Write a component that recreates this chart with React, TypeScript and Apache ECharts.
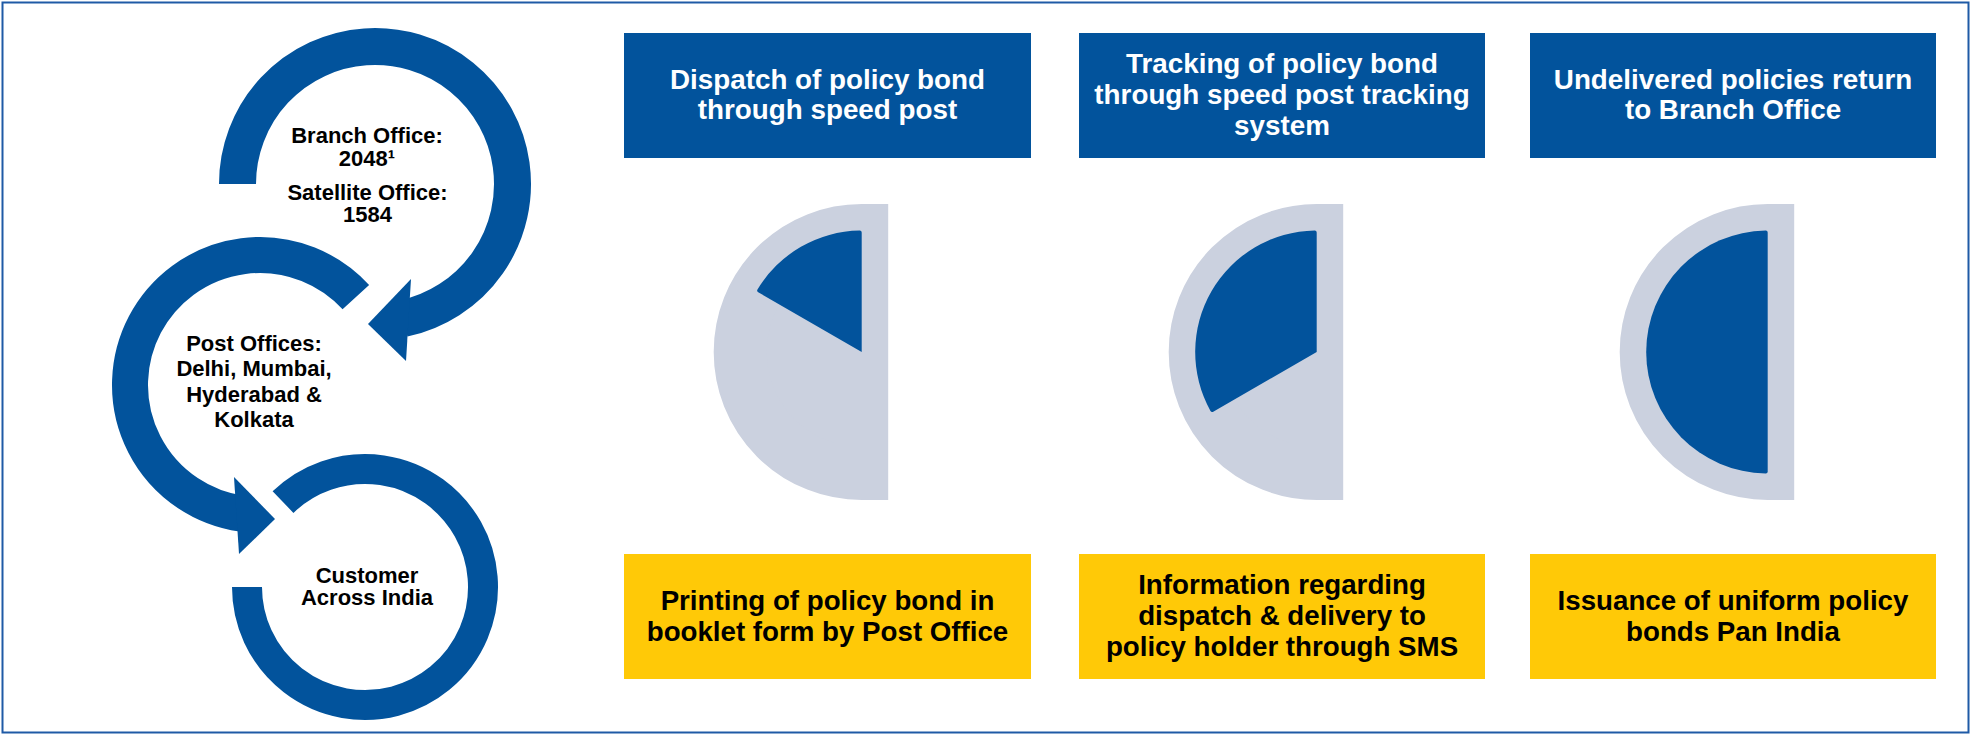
import React, { useEffect, useRef } from "react";
import * as echarts from "echarts";

// ---- content ----
const flowLabels = [
  "Branch Office:\n2048¹",
  "Satellite Office:\n1584",
  "Post Offices:\nDelhi, Mumbai,\nHyderabad &\nKolkata",
  "Customer\nAcross India",
];
const stepTitles = [
  "Dispatch of policy bond\nthrough speed post",
  "Tracking of policy bond\nthrough speed post tracking\nsystem",
  "Undelivered policies return\nto Branch Office",
];
const stepNotes = [
  "Printing of policy bond in\nbooklet form by Post Office",
  "Information regarding\ndispatch & delivery to\npolicy holder through SMS",
  "Issuance of uniform policy\nbonds Pan India",
];
const deliveredParts = [1, 2, 3];
const totalParts = 6;
const halfParts = [1, 1];

// ---- styling / layout ----
const BLUE = "#02539C";
const GRAY = "#CBD1DF";
const YELLOW = "#FFC907";
const FRAME = "#1F5AA6";
const FONT = '"Liberation Sans", Arial, Helvetica, sans-serif';

const W = 1971;
const H = 735;
const colX = [624, 1079, 1530];
const colW = [407, 406, 406];
const boxH = 125;
const titleTop = 33;
const noteTop = 554;
const pieOffset = 237.7;
const pieCy = 352;
const pieR = 121.5;
const halo = 26.5;

const deg = (d: number) => (d * Math.PI) / 180;

function txt(text: string, x: number, y: number, size: number, lh: number, color: string) {
  return {
    type: "text",
    x,
    y,
    z: 10,
    silent: true,
    style: {
      text,
      fill: color,
      fontSize: size,
      fontWeight: "bold",
      fontFamily: FONT,
      align: "center",
      verticalAlign: "middle",
      textAlign: "center",
      textVerticalAlign: "middle",
      lineHeight: lh,
    },
  };
}

export default function App() {
  const ref = useRef<HTMLDivElement>(null);
  useEffect(() => {
    document.body.style.margin = "0";
    const chart = echarts.init(ref.current!, null, { renderer: "svg" });

    const series: any[] = [];
    deliveredParts.forEach((p, i) => {
      const cx = colX[i] + pieOffset;
      const common = {
        type: "pie",
        silent: true,
        center: [cx, pieCy],
        radius: pieR,
        startAngle: 90,
        clockwise: false,
        label: { show: false },
        labelLine: { show: false },
        emphasis: { disabled: true },
        tooltip: { show: false },
      };
      series.push({
        ...common,
        z: 1,
        data: [
          {
            value: halfParts[0],
            itemStyle: {
              color: GRAY,
              borderColor: GRAY,
              borderWidth: halo * 2,
              borderJoin: "miter",
              borderMiterLimit: 10,
            },
          },
          { value: halfParts[1], itemStyle: { color: "transparent", borderWidth: 0 } },
        ],
      });
      series.push({
        ...common,
        z: 2,
        data: [
          { value: p, itemStyle: { color: BLUE, borderWidth: 0, borderRadius: 2 } },
          { value: totalParts - p, itemStyle: { color: "transparent", borderWidth: 0 } },
        ],
      });
    });

    const graphics: any[] = [];
    graphics.push({
      type: "rect",
      silent: true,
      shape: { x: 2.5, y: 2.5, width: W - 5, height: H - 5 },
      style: { fill: "none", stroke: FRAME, lineWidth: 2 },
    });

    // flow rings
    const rings = [
      { cx: 375, cy: 184, r: 137.5, w: 37, s: 180, e: 78 },
      { cx: 260, cy: 385, r: 130, w: 36, s: 98, e: 317.5 },
      { cx: 365, cy: 587, r: 118, w: 30, s: 226, e: 180 },
    ];
    rings.forEach((g) => {
      graphics.push({
        type: "arc",
        silent: true,
        shape: { cx: g.cx, cy: g.cy, r: g.r, startAngle: deg(g.s), endAngle: deg(g.e), clockwise: true },
        style: { stroke: BLUE, lineWidth: g.w, fill: "none", lineCap: "butt" },
      });
    });
    const heads = [
      [[411, 279], [406, 361], [368, 324]],
      [[234, 477], [239, 554], [275, 519]],
    ];
    heads.forEach((pts) => {
      graphics.push({
        type: "polygon",
        silent: true,
        shape: { points: pts },
        style: { fill: BLUE },
      });
    });

    graphics.push(txt(flowLabels[0], 367, 147.3, 22, 22.7, "#000"));
    graphics.push(txt(flowLabels[1], 367.5, 203.7, 22, 22.3, "#000"));
    graphics.push(txt(flowLabels[2], 254, 381.5, 22, 25.2, "#000"));
    graphics.push(txt(flowLabels[3], 367, 586.5, 22, 22.4, "#000"));

    stepTitles.forEach((t, i) => {
      graphics.push({
        type: "rect",
        silent: true,
        shape: { x: colX[i], y: titleTop, width: colW[i], height: boxH },
        style: { fill: BLUE },
      });
      graphics.push(txt(t, colX[i] + colW[i] / 2, titleTop + 61.5, 27.8, 30.6, "#FFFFFF"));
    });
    stepNotes.forEach((t, i) => {
      graphics.push({
        type: "rect",
        silent: true,
        shape: { x: colX[i], y: noteTop, width: colW[i], height: boxH },
        style: { fill: YELLOW },
      });
      graphics.push(txt(t, colX[i] + colW[i] / 2, noteTop + 61.5, 27.7, 31, "#000000"));
    });

    chart.setOption({
      animation: false,
      backgroundColor: "#FFFFFF",
      series,
      graphic: { elements: graphics },
    });
    return () => chart.dispose();
  }, []);
  return <div ref={ref} style={{ width: W, height: H }} />;
}
